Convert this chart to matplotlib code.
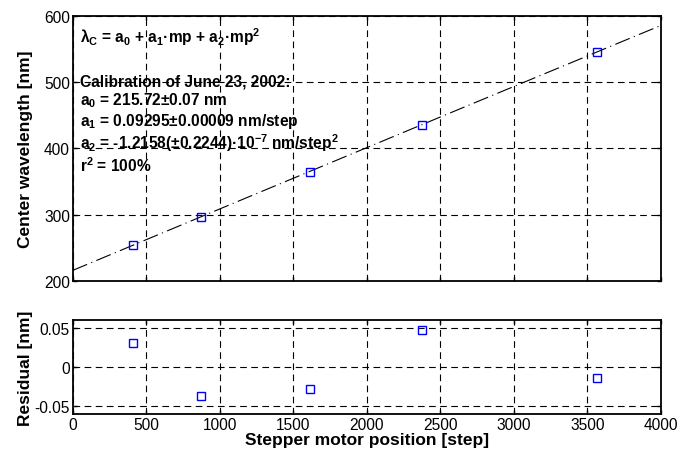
import numpy as np
import matplotlib
matplotlib.use("Agg")
import matplotlib.pyplot as plt

plt.rcParams['font.family'] = ['Liberation Sans', 'DejaVu Sans']
plt.rcParams['mathtext.fontset'] = 'custom'
plt.rcParams['mathtext.bf'] = 'Liberation Sans:bold'
plt.rcParams['mathtext.rm'] = 'Liberation Sans:bold'
plt.rcParams['mathtext.it'] = 'Liberation Sans:bold'
plt.rcParams['mathtext.default'] = 'bf'

# data
steps = [408, 870, 1610, 2375, 3565]
wavelength = [253.65, 296.46, 365.03, 435.84, 545.50]
residual = [0.031, -0.037, -0.028, 0.047, -0.014]

# fit coefficients (from the annotation)
a0 = 215.72
a1 = 0.09295
a2 = -1.2158e-7

fig = plt.figure(figsize=(6.8, 4.56), dpi=100)
ax1 = fig.add_axes([0.107, 0.382, 0.865, 0.581])
ax2 = fig.add_axes([0.107, 0.090, 0.865, 0.206])

grid_kw = dict(color='black', linestyle=(0, (6, 4)), linewidth=0.8)

# top: calibration curve
mp = np.linspace(0, 4000, 200)
ax1.plot(mp, a0 + a1 * mp + a2 * mp ** 2, color='black', lw=0.8,
         linestyle=(0, (14, 4, 1, 4)))
ax1.plot(steps, wavelength, 's', mfc='none', mec='blue', ms=6, mew=1)
ax1.set_xlim(0, 4000)
ax1.set_ylim(200, 600)
ax1.set_yticks([200, 300, 400, 500, 600])
ax1.set_xticks(np.arange(0, 4001, 500))
ax1.set_xticklabels([])
ax1.grid(True, **grid_kw)
ax1.set_ylabel('Center wavelength [nm]', fontsize=12.5, fontweight='bold')
ax1.yaxis.set_label_coords(-0.068, 0.5)

tx = 0.012
fs = 11.2
ax1.text(tx, 0.925, r'λ$_C$ = a$_0$ + a$_1$·mp + a$_2$·mp$^2$',
         transform=ax1.transAxes, fontsize=fs, fontweight='bold', va='center')
lines = [
    ('Calibration of June 23, 2002:', 0.755),
    (r'a$_0$ = 215.72±0.07 nm', 0.684),
    (r'a$_1$ = 0.09295±0.00009 nm/step', 0.606),
    (r'a$_2$ = -1.2158(±0.2244)·10$^{-7}$ nm/step$^2$', 0.525),
    (r'r$^2$ = 100%', 0.438),
]
for s, y in lines:
    ax1.text(tx, y, s, transform=ax1.transAxes, fontsize=fs,
             fontweight='bold', va='center')

# bottom: residuals
ax2.plot(steps, residual, 's', mfc='none', mec='blue', ms=6, mew=1)
ax2.set_xlim(0, 4000)
ax2.set_ylim(-0.06, 0.06)
ax2.set_yticks([-0.05, 0, 0.05])
ax2.set_yticklabels(['-0.05', '0', '0.05'])
ax2.set_xticks(np.arange(0, 4001, 500))
ax2.grid(True, **grid_kw)
ax2.set_ylabel('Residual [nm]', fontsize=12.5, fontweight='bold')
ax2.yaxis.set_label_coords(-0.068, 0.5)
ax2.set_xlabel('Stepper motor position [step]', fontsize=12.5, fontweight='bold',
               labelpad=0)

for ax in (ax1, ax2):
    for sp in ax.spines.values():
        sp.set_linewidth(1.3)
    ax.tick_params(direction='in', length=3, width=1, labelsize=11.2,
                   top=True, right=True, pad=2)
    ax.set_axisbelow(True)

fig.savefig('out.png', dpi=100)
